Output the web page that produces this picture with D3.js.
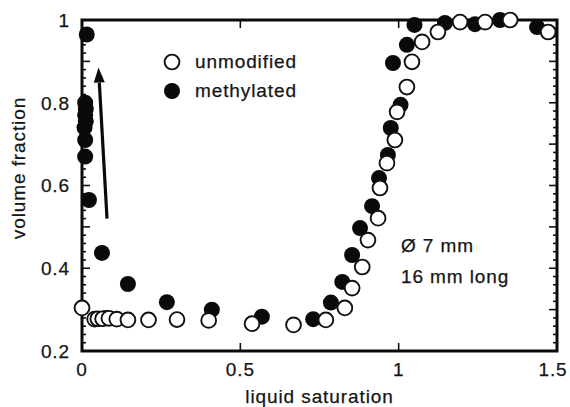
<!DOCTYPE html>
<html>
<head>
<meta charset="utf-8">
<script src="https://cdn.jsdelivr.net/npm/d3@7/dist/d3.min.js"></script>
<style>
  html, body { margin: 0; padding: 0; background: #fff; }
  svg { display: block; }
  text { font-family: "Liberation Sans", Arial, Helvetica, sans-serif; fill: #151515; letter-spacing: 0.9px; stroke: #151515; stroke-width: 0.25px; }
</style>
</head>
<body>
<script>
// Volume fraction vs liquid saturation, two surface treatments
const unmodified = [
  [0.0, 0.304], [0.04, 0.277], [0.05, 0.278], [0.065, 0.278], [0.085, 0.279],
  [0.11, 0.277], [0.145, 0.275], [0.21, 0.275], [0.30, 0.276], [0.40, 0.274],
  [0.537, 0.266], [0.668, 0.263], [0.77, 0.275], [0.83, 0.304], [0.853, 0.352],
  [0.885, 0.403], [0.903, 0.468], [0.935, 0.521], [0.941, 0.594], [0.963, 0.654],
  [0.988, 0.710], [0.995, 0.778], [1.026, 0.838], [1.042, 0.899], [1.074, 0.947],
  [1.124, 0.971], [1.194, 0.995], [1.273, 0.995], [1.352, 1.0], [1.472, 0.971]
];
const methylated = [
  [0.015, 0.965], [0.01, 0.80], [0.012, 0.785], [0.01, 0.77], [0.012, 0.755],
  [0.008, 0.74], [0.01, 0.71], [0.01, 0.67], [0.022, 0.565], [0.063, 0.437],
  [0.075, 0.28], [0.145, 0.362], [0.268, 0.318], [0.41, 0.30], [0.568, 0.283],
  [0.73, 0.277], [0.786, 0.317], [0.822, 0.367], [0.853, 0.432], [0.878, 0.497],
  [0.916, 0.550], [0.938, 0.618], [0.966, 0.674], [0.975, 0.739], [1.006, 0.795],
  [0.982, 0.896], [1.026, 0.940], [1.05, 0.988], [1.146, 0.993], [1.241, 0.99],
  [1.32, 1.0], [1.437, 0.983]
];
const xTicks = [0, 0.5, 1, 1.5];
const xTickLabels = ["0", "0.5", "1", "1.5"];
const yTicks = [0.2, 0.4, 0.6, 0.8, 1];
const yTickLabels = ["0.2", "0.4", "0.6", "0.8", "1"];
const legendItems = ["unmodified", "methylated"];
const noteLines = ["Ø 7 mm", "16 mm long"];
const arrowFrom = [0.079, 0.52], arrowTo = [0.052, 0.885];

const W = 570, H = 407;
const m = { left: 82, right: 13, top: 20, bottom: 56 };

const svg = d3.select("body").append("svg").attr("width", W).attr("height", H);

const x = d3.scaleLinear().domain([0, 1.5]).range([m.left, W - m.right]);
const y = d3.scaleLinear().domain([0.2, 1]).range([H - m.bottom, m.top]);

const major = d3.range(0.2, 1.0001, 0.1).map(v => +v.toFixed(2));
const minor = d3.range(0.2, 1.0001, 0.02).map(v => +v.toFixed(2)).filter(v => !major.includes(v));

// tick marks, pointing into the plot
const tickG = svg.append("g").attr("stroke", "#111").attr("stroke-width", 1.6);
function yTickSet(vals, len) {
  vals.forEach(v => {
    tickG.append("line").attr("x1", x(0)).attr("x2", x(0) + len).attr("y1", y(v)).attr("y2", y(v));
    tickG.append("line").attr("x1", x(1.5)).attr("x2", x(1.5) - len).attr("y1", y(v)).attr("y2", y(v));
  });
}
yTickSet(major, 8);
yTickSet(minor, 4);
[0.5, 1].forEach(v => {
  tickG.append("line").attr("x1", x(v)).attr("x2", x(v)).attr("y1", y(0.2)).attr("y2", y(0.2) - 8);
  tickG.append("line").attr("x1", x(v)).attr("x2", x(v)).attr("y1", y(1)).attr("y2", y(1) + 8);
});

// frame
svg.append("rect")
  .attr("x", x(0)).attr("y", y(1))
  .attr("width", x(1.5) - x(0)).attr("height", y(0.2) - y(1))
  .attr("fill", "none").attr("stroke", "#0a0a0a").attr("stroke-width", 3);

// tick labels
svg.append("g").selectAll("text").data(yTicks).join("text")
  .attr("x", x(0) - 12).attr("y", d => y(d)).attr("dy", "0.36em")
  .attr("text-anchor", "end").attr("font-size", 19)
  .text((d, i) => yTickLabels[i]);
svg.append("g").selectAll("text").data(xTicks).join("text")
  .attr("x", d => x(d)).attr("dx", (d, i) => i === xTicks.length - 1 ? -4 : 0)
  .attr("y", y(0.2) + 25)
  .attr("text-anchor", "middle").attr("font-size", 19)
  .text((d, i) => xTickLabels[i]);

// axis titles
svg.append("text")
  .attr("x", (x(0) + x(1.5)) / 2).attr("y", 403)
  .attr("text-anchor", "middle").attr("font-size", 19)
  .text("liquid saturation");
svg.append("text")
  .attr("transform", `translate(25, 168) rotate(-90)`)
  .attr("text-anchor", "middle").attr("font-size", 19)
  .text("volume fraction");

// direction arrow
const ax1 = x(arrowFrom[0]), ay1 = y(arrowFrom[1]);
const ax2 = x(arrowTo[0]), ay2 = y(arrowTo[1]);
const ang = Math.atan2(ay2 - ay1, ax2 - ax1);
const headLen = 15, headHalf = 5.5;
const bx = ax2 - headLen * Math.cos(ang), by = ay2 - headLen * Math.sin(ang);
svg.append("line")
  .attr("x1", ax1).attr("y1", ay1).attr("x2", bx).attr("y2", by)
  .attr("stroke", "#0a0a0a").attr("stroke-width", 3.2);
svg.append("path")
  .attr("d", `M${ax2},${ay2} L${bx - headHalf * Math.sin(ang)},${by + headHalf * Math.cos(ang)} L${bx + headHalf * Math.sin(ang)},${by - headHalf * Math.cos(ang)} Z`)
  .attr("fill", "#0a0a0a");

// data points
const R = 7.4;
svg.append("g").selectAll("circle").data(methylated).join("circle")
  .attr("cx", d => x(d[0])).attr("cy", d => y(d[1])).attr("r", R + 0.6)
  .attr("fill", "#0a0a0a");
svg.append("g").selectAll("circle").data(unmodified).join("circle")
  .attr("cx", d => x(d[0])).attr("cy", d => y(d[1])).attr("r", R)
  .attr("fill", "#fff").attr("stroke", "#111").attr("stroke-width", 1.9);

// legend
const leg = svg.append("g");
leg.append("circle").attr("cx", 172).attr("cy", 62).attr("r", 7.4)
  .attr("fill", "#fff").attr("stroke", "#111").attr("stroke-width", 1.9);
leg.append("circle").attr("cx", 172).attr("cy", 91).attr("r", 8).attr("fill", "#0a0a0a");
leg.selectAll("text").data(legendItems).join("text")
  .attr("x", 195).attr("y", (d, i) => 68 + i * 29)
  .attr("font-size", 19).text(d => d);

// sample note
svg.append("g").selectAll("text").data(noteLines).join("text")
  .attr("x", 401).attr("y", (d, i) => 252 + i * 31)
  .attr("font-size", 19).text(d => d);
</script>
</body>
</html>
